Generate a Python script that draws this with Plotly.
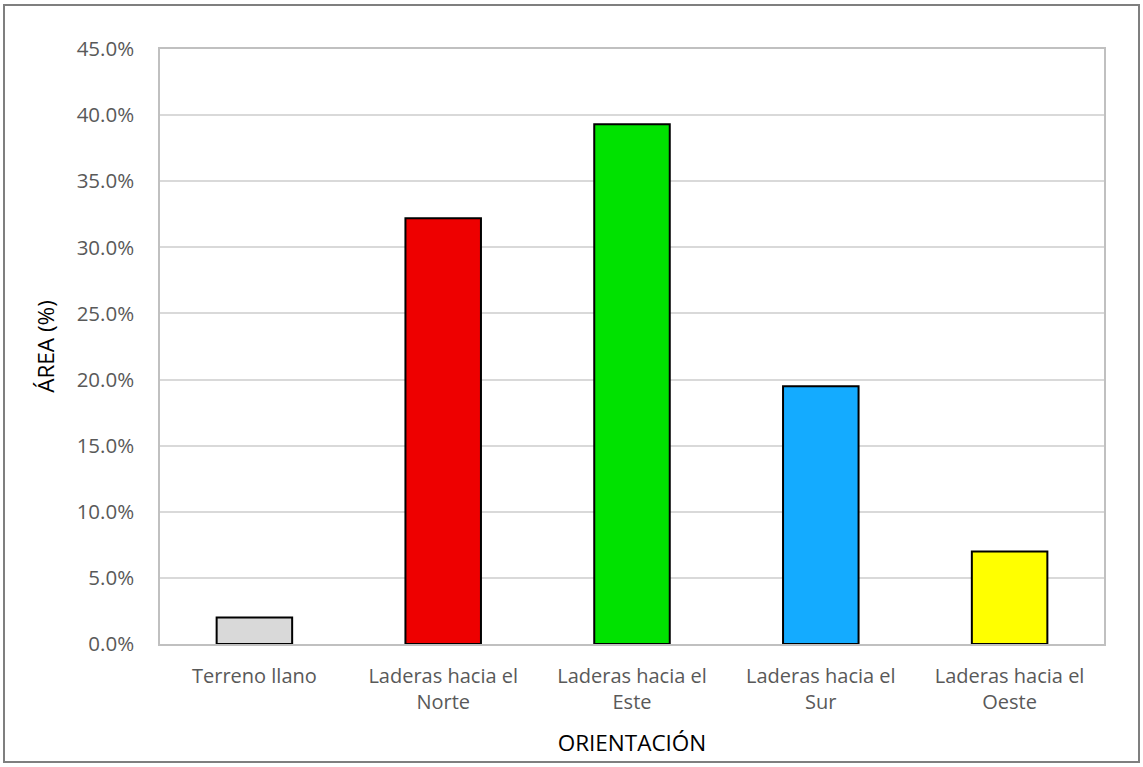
import plotly.graph_objects as go

# Share of area by slope orientation
categories = [
    "Terreno llano",
    "Laderas hacia el<br>Norte",
    "Laderas hacia el<br>Este",
    "Laderas hacia el<br>Sur",
    "Laderas hacia el<br>Oeste",
]
area_pct = [2.0, 32.2, 39.3, 19.5, 7.0]
bar_colors = ["#d9d9d9", "#ee0000", "#00e200", "#14abff", "#ffff00"]
y_ticks = [0, 5, 10, 15, 20, 25, 30, 35, 40, 45]

W, H = 1143, 767
ML, MR, MT, MB = 160, 39, 49, 123
FONT = "Open Sans"

fig = go.Figure(
    go.Bar(
        x=categories,
        y=area_pct,
        marker=dict(color=bar_colors, line=dict(color="#000000", width=2)),
        width=0.4,
        hoverinfo="x+y",
    )
)

pw = W - ML - MR
ph = H - MT - MB


def px_to_paper_x(px):
    return (px - ML) / pw


def px_to_paper_y(py):
    return (H - MB - py) / ph


fig.update_layout(
    width=W,
    height=H,
    margin=dict(l=ML, r=MR, t=MT, b=MB),
    paper_bgcolor="white",
    plot_bgcolor="white",
    showlegend=False,
    font=dict(family=FONT, size=20, color="#595959"),
    xaxis=dict(
        showgrid=False,
        showline=True,
        linecolor="#c0c0c0",
        linewidth=1.5,
        mirror=True,
        ticks="",
        ticklabelstandoff=13,
        tickfont=dict(family=FONT, size=20, color="#595959"),
        title=dict(
            text="ORIENTACIÓN",
            font=dict(family=FONT, size=22.5, color="#000000"),
            standoff=21,
        ),
    ),
    yaxis=dict(
        range=[0, 45],
        tickvals=y_ticks,
        ticktext=[f"{v:.1f}%" for v in y_ticks],
        showgrid=True,
        gridcolor="#d9d9d9",
        gridwidth=1.5,
        showline=True,
        linecolor="#c0c0c0",
        linewidth=1.5,
        mirror=True,
        zeroline=False,
        ticks="",
        ticklabelstandoff=20,
        tickfont=dict(family=FONT, size=20.5, color="#595959"),
        title=dict(
            text="ÁREA (%)",
            font=dict(family=FONT, size=22.5, color="#000000"),
            standoff=16,
        ),
    ),
    shapes=[
        dict(
            type="rect",
            xref="paper",
            yref="paper",
            x0=px_to_paper_x(4),
            x1=px_to_paper_x(1139),
            y0=px_to_paper_y(762),
            y1=px_to_paper_y(5),
            line=dict(color="#7f7f7f", width=2),
            fillcolor="rgba(0,0,0,0)",
            layer="below",
        )
    ],
)

fig.write_html("out.html")
